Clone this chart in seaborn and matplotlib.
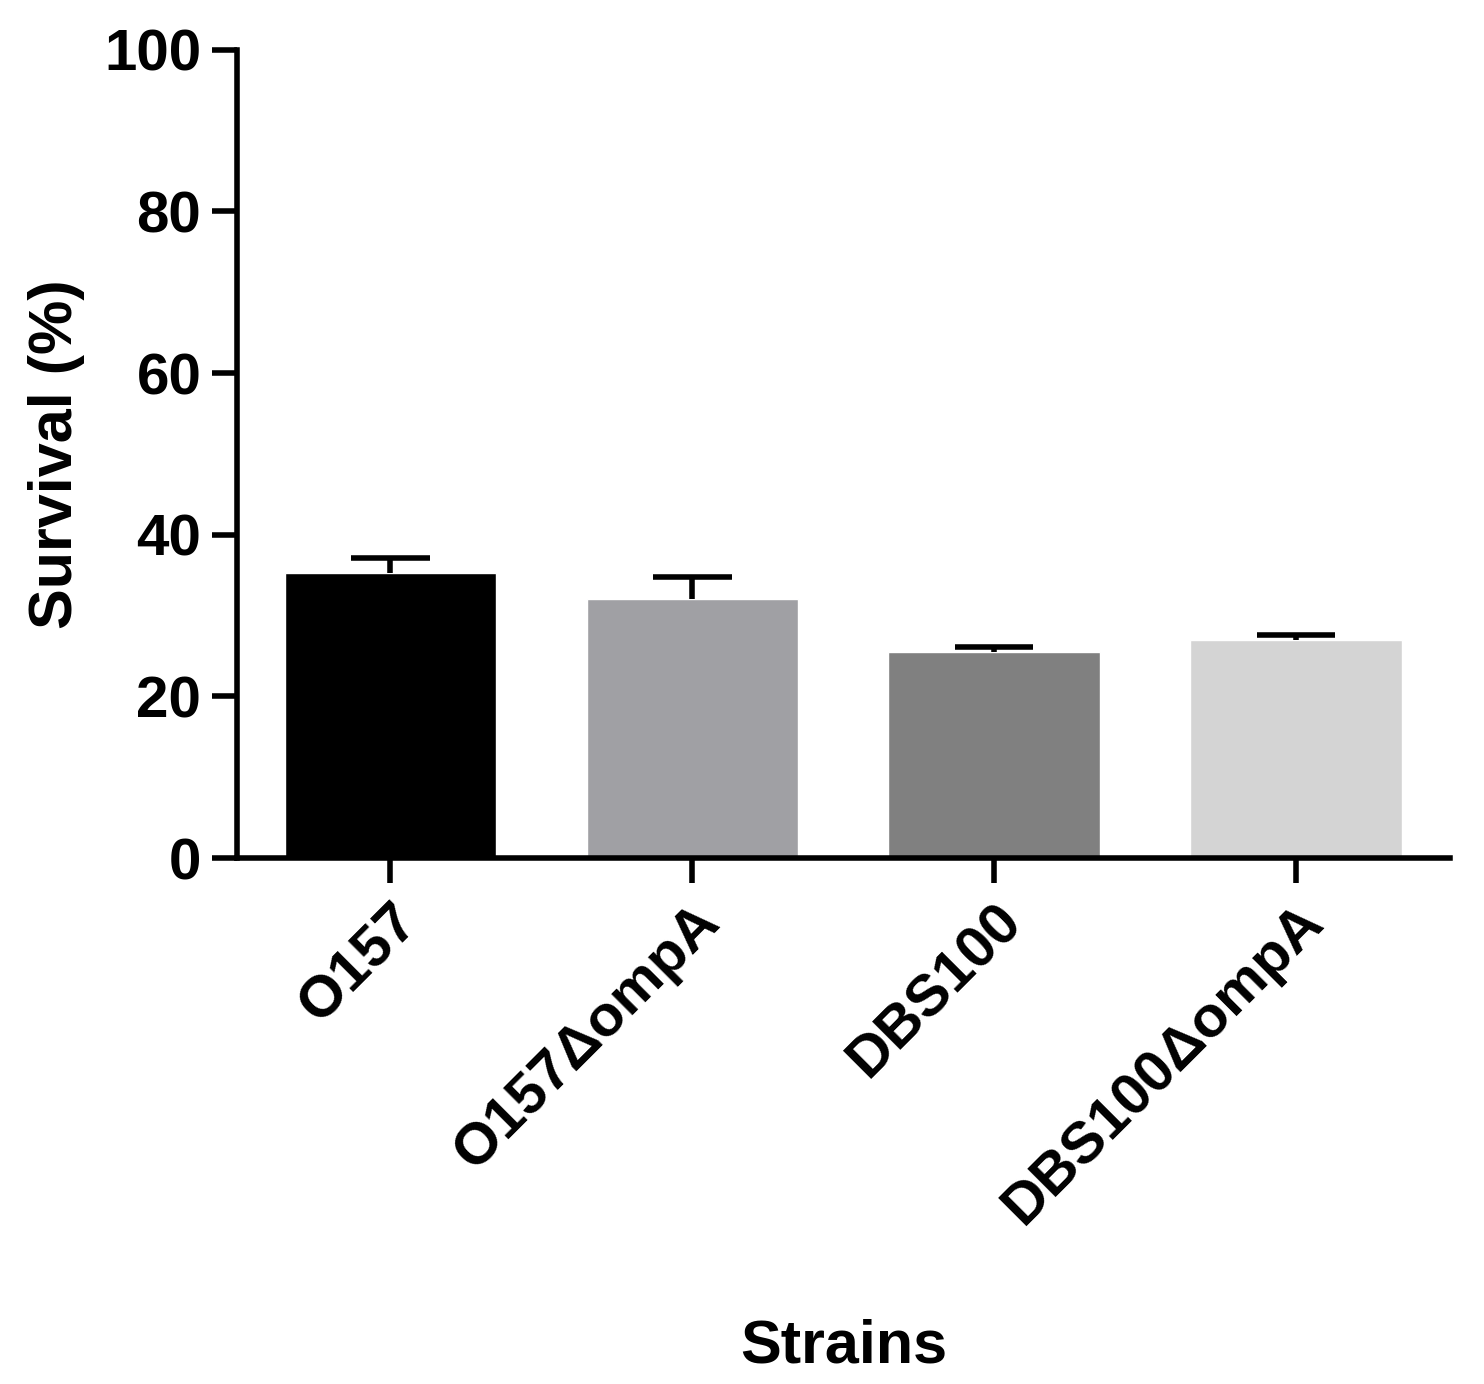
import matplotlib
matplotlib.use("Agg")
import matplotlib.pyplot as plt
import numpy as np
import pandas as pd
import seaborn as sns

sns.set_theme(style="ticks")
plt.rcParams['font.family'] = ['Liberation Sans', 'DejaVu Sans']
plt.rcParams['text.color'] = 'black'
plt.rcParams['axes.labelcolor'] = 'black'
plt.rcParams['xtick.color'] = 'black'
plt.rcParams['ytick.color'] = 'black'

strains = ['O157', 'O157\u0394ompA', 'DBS100', 'DBS100\u0394ompA']
survival = [35.3, 32.0, 25.5, 27.0]
err_upper = [1.8, 2.8, 0.6, 0.6]
colors = ['#000000', '#a0a0a4', '#808080', '#d4d4d4']

df = pd.DataFrame({'Strains': strains, 'Survival': survival})

fig = plt.figure(figsize=(14.84, 13.84), dpi=100)
ax = fig.add_axes([0.160, 0.380, 0.817, 0.584])

sns.barplot(data=df, x='Strains', y='Survival', hue='Strains', palette=colors,
            width=0.70, legend=False, ax=ax, saturation=1)
x = np.arange(len(strains))
tops = np.array(survival) + np.array(err_upper)
# upper-only error bars
ax.vlines(x, survival, tops, color='black', lw=4, zorder=5)
ax.hlines(tops, x - 0.13, x + 0.13, color='black', lw=4, zorder=5)

ax.set_ylim(0, 100)
ax.set_xlim(-0.507, 3.51)
ax.set_yticks([0, 20, 40, 60, 80, 100])
for s in ['top', 'right']:
    ax.spines[s].set_visible(False)
for s in ['left', 'bottom']:
    ax.spines[s].set_linewidth(4)
    ax.spines[s].set_color('black')
ax.tick_params(axis='both', width=4, length=18, labelsize=42, pad=8)
ax.set_xticks(x)
ax.set_xticklabels(strains, rotation=45, ha='right', rotation_mode='anchor',
                   fontweight='bold')
for t in ax.get_yticklabels():
    t.set_fontweight('bold')
ax.set_ylabel('Survival (%)', fontsize=44, fontweight='bold', labelpad=14)
ax.set_xlabel('Strains', fontsize=44, fontweight='bold', labelpad=60)

fig.savefig('out.png', dpi=100)
